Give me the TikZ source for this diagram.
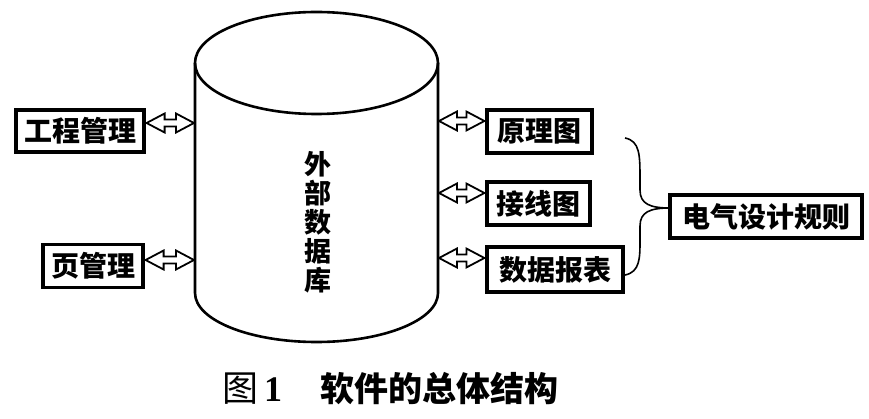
\documentclass[tikz,border=0pt]{standalone}
\usepackage{fontspec}
\newfontfamily\cjk{Noto Sans CJK SC}
\newfontfamily\numfont{Liberation Serif}
\usetikzlibrary{arrows.meta,calc}
\tikzset{
  box/.style={draw, line width=3.2pt, inner sep=0pt, font=\cjk\bfseries\fontsize{28}{30}\selectfont},
  fatarrow/.style={draw, line width=1.8pt, line join=miter, fill=white},
  cyl/.style={line width=2.6pt},
}
% hollow double-headed arrow between two named horizontal points #1 (left) and #2 (right)
\newcommand\twohead[2]{%
  \draw[fatarrow] (#1) -- ($(#1)+(18,-9.5)$) -- ($(#1)+(18,-3.5)$) -- ($(#2)+(-18,-3.5)$) -- ($(#2)+(-18,-9.5)$)
    -- (#2) -- ($(#2)+(-18,9.5)$) -- ($(#2)+(-18,3.5)$) -- ($(#1)+(18,3.5)$) -- ($(#1)+(18,9.5)$) -- cycle;}
\begin{document}
\begin{tikzpicture}[x=1pt,y=-1pt]
\useasboundingbox (0,0) rectangle (869,419);
% cylinder
\draw[cyl] (316.5,63) ellipse [x radius=121.5, y radius=51];
\draw[cyl] (195,63) -- (195,293) arc[start angle=180, end angle=360, x radius=121.5, y radius=-49] -- (438,63);
\node[font=\cjk\bfseries\fontsize{27}{29}\selectfont, align=center, inner sep=0pt] (db) at (318,222) {外\\部\\数\\据\\库};
% boxes
\node[box, minimum width=128, minimum height=42] (gc) at (80,131) {工程管理};
\node[box, minimum width=100, minimum height=43] (yg) at (93,266) {页管理};
\node[box, minimum width=105, minimum height=43] (ylt) at (539.5,131.5) {原理图};
\node[box, minimum width=103, minimum height=43] (jxt) at (538.5,203.5) {接线图};
\node[box, minimum width=136, minimum height=45] (sjbb) at (555,269.5) {数据报表};
\node[box, minimum width=192, minimum height=43] (dq) at (766,216.5) {电气设计规则};
% cylinder side points and box side points
\coordinate (c1) at (194,123);
\coordinate (c2) at (194,260);
\coordinate (c3) at (439,121);
\coordinate (c4) at (439,193);
\coordinate (c5) at (439,258);
\coordinate (g1) at ($(gc.east |- c1)+(1,0)$);
\coordinate (g2) at ($(yg.east |- c2)+(1,0)$);
\coordinate (r3) at ($(ylt.west |- c3)+(-1,0)$);
\coordinate (r4) at ($(jxt.west |- c4)+(-1,0)$);
\coordinate (r5) at ($(sjbb.west |- c5)+(-1,0)$);
\twohead{g1}{c1}
\twohead{g2}{c2}
\twohead{c3}{r3}
\twohead{c4}{r4}
\twohead{c5}{r5}
% brace
\coordinate (bt) at (625,138);
\coordinate (bb) at (625,275);
\coordinate (tip) at (670,208);
\draw[line width=1.6pt] (bt) .. controls (640,141) and (640,155) .. (640,180) -- (640,190) .. controls (640,204) and (650,208) .. (tip);
\draw[line width=1.6pt] (bb) .. controls (640,272) and (640,258) .. (640,240) -- (640,226) .. controls (640,212) and (650,208) .. (tip);
% caption
\node[anchor=west, inner sep=0pt] (cap) at (222,389) {\cjk\fontsize{36}{38}\selectfont 图\,\numfont\bfseries 1\hspace{38pt}\cjk\bfseries\fontsize{34}{36}\selectfont 软件的总体结构};
\end{tikzpicture}
\end{document}
